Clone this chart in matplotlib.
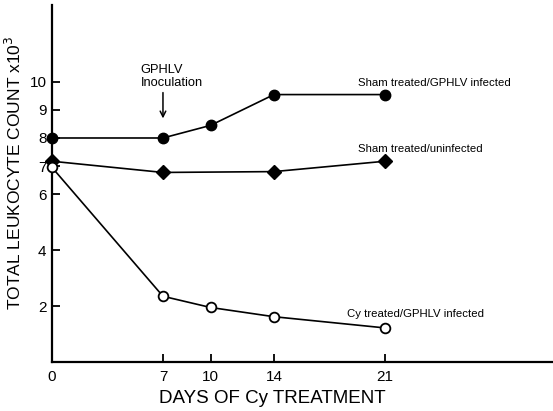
import matplotlib
matplotlib.use('Agg')
import matplotlib.pyplot as plt

days = [0, 7, 10, 14, 21]
days_uninf = [0, 7, 14, 21]

sham_infected = [8.0, 8.0, 8.45, 9.55, 9.55]
sham_uninfected = [7.17, 6.77, 6.8, 7.17]
cy_infected = [6.95, 2.35, 1.95, 1.62, 1.22]

xticks = [0, 7, 10, 14, 21]
yticks = [2, 4, 6, 7, 8, 9, 10]

plt.rcParams['font.family'] = ['Liberation Sans', 'DejaVu Sans']

fig = plt.figure(figsize=(5.53, 4.11), dpi=100)
ax = fig.add_axes([0.094, 0.119, 0.906, 0.869])

ax.plot(days, sham_infected, color='black', lw=1.2, marker='o', ms=7.5,
        mfc='black', mec='black', clip_on=False, zorder=3)
ax.plot(days_uninf, sham_uninfected, color='black', lw=1.2, marker='D', ms=7,
        mfc='black', mec='black', clip_on=False, zorder=3)
ax.plot(days, cy_infected, color='black', lw=1.2, marker='o', ms=7,
        mfc='white', mec='black', mew=1.3, clip_on=False, zorder=4)

ax.set_xlim(0, 31.6)
ax.set_ylim(0, 12.75)
ax.set_xticks(xticks)
ax.set_yticks(yticks)
ax.tick_params(direction='in', length=6, width=1.3, labelsize=11)
ax.tick_params(axis='y', pad=4)
ax.tick_params(axis='x', pad=6)
ax.spines['top'].set_visible(False)
ax.spines['right'].set_visible(False)
ax.spines['left'].set_linewidth(1.6)
ax.spines['bottom'].set_linewidth(1.6)

ax.set_xlabel('DAYS OF Cy TREATMENT', fontsize=13.5)
ax.xaxis.set_label_coords(0.44, -0.077)
ax.set_ylabel('TOTAL LEUKOCYTE COUNT x10$^3$', fontsize=12.5)
ax.yaxis.set_label_coords(-0.056, 0.53)

ax.annotate('', xy=(7, 8.6), xytext=(7, 9.72),
            arrowprops=dict(arrowstyle='->', color='black', lw=1.1))
ax.text(5.6, 9.85, 'GPHLV\nInoculation', ha='left', va='baseline', fontsize=9.3,
        linespacing=1.15)

ax.text(19.3, 9.85, 'Sham treated/GPHLV infected', fontsize=8.2, va='baseline')
ax.text(19.3, 7.5, 'Sham treated/uninfected', fontsize=8.2, va='baseline')
ax.text(18.6, 1.62, 'Cy treated/GPHLV infected', fontsize=8.2, va='baseline')

fig.savefig('out.png', dpi=100)
